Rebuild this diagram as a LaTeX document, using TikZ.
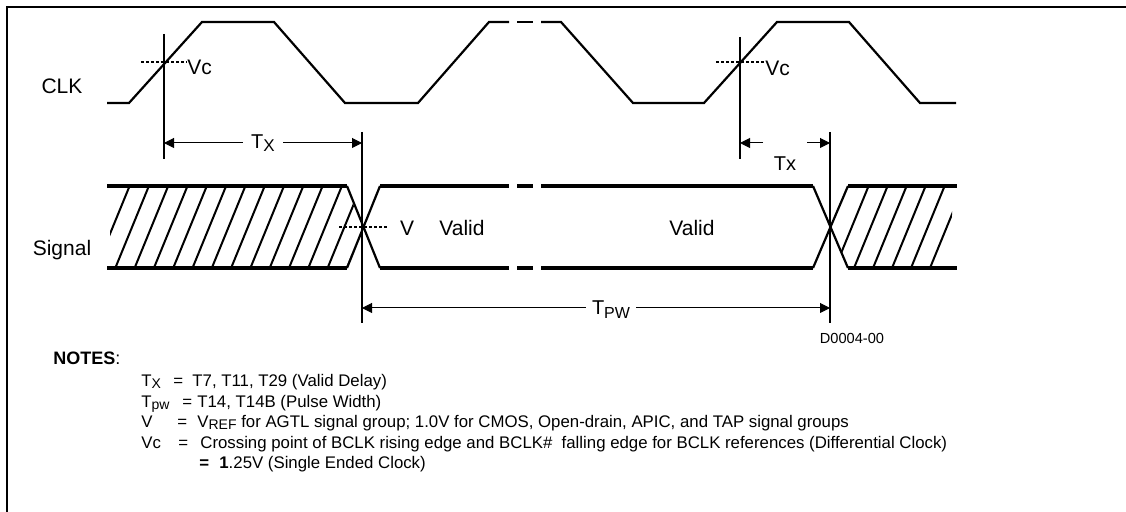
\documentclass[tikz,border=0pt]{standalone}
\usepackage{fontspec}
\setmainfont{Liberation Sans}
\usetikzlibrary{arrows.meta, calc}

\newcommand{\notesub}[1]{\raisebox{-1pt}{\fontsize{7}{8}\selectfont #1}}

\begin{document}
\begin{tikzpicture}[
    x=0.5pt, y=-0.5pt,
    frame/.style={line width=1pt},
    wave/.style={line width=1.1pt, line join=miter},
    bus/.style={line width=1.8pt},
    edge/.style={line width=1.1pt},
    hatch/.style={line width=1pt},
    marker/.style={line width=0.8pt},
    level/.style={line width=0.6pt, dash pattern=on 1.5pt off 1pt},
    dimline/.style={line width=0.5pt, -{Triangle[length=5pt, width=5pt]}},
    lbl/.style={font=\fontsize{10.5}{12}\selectfont, inner sep=0pt},
    tlbl/.style={font=\fontsize{10}{11}\selectfont, inner sep=1pt},
    note/.style={font=\fontsize{8.4}{10}\selectfont, anchor=base west, inner sep=0pt}
]
\useasboundingbox (0,0) rectangle (1126,512);

% ====================
% Cornice
% ====================
\draw[frame] (7,512) -- (7,7) -- (1126,7);

% ====================
% CLK
% ====================
\node[lbl] (clk) at (62,86) {CLK};

\coordinate (c0) at (107,103);
\coordinate (c1) at (129,103);
\coordinate (c2) at (202,22);
\coordinate (c3) at (274,22);
\coordinate (c4) at (345,103);
\coordinate (c5) at (418,103);
\coordinate (c6) at (489,22);
\coordinate (c7) at (509,22);
\coordinate (c8) at (517,22);
\coordinate (c9) at (533,22);
\coordinate (c10) at (541,22);
\coordinate (c11) at (561,22);
\coordinate (c12) at (633,103);
\coordinate (c13) at (704,103);
\coordinate (c14) at (777,22);
\coordinate (c15) at (849,22);
\coordinate (c16) at (920,103);
\coordinate (c17) at (956,103);
\draw[wave] (c0) -- (c1) -- (c2) -- (c3) -- (c4) -- (c5) -- (c6) -- (c7);
\draw[wave] (c8) -- (c9);
\draw[wave] (c10) -- (c11) -- (c12) -- (c13) -- (c14) -- (c15) -- (c16) -- (c17);

% Vc
\coordinate (vc1L) at (141,62);
\coordinate (vc1R) at (187,62);
\coordinate (vc2L) at (716,62);
\coordinate (vc2R) at (765,62);
\draw[level] (vc1L) -- (vc1R);
\draw[level] (vc2L) -- (vc2R);
\node[lbl, anchor=west] (vc1) at (187,67) {Vc};
\node[lbl, anchor=west] (vc2) at (765,68) {Vc};

% Marker verticali
\coordinate (m1T) at (164,34);  \coordinate (m1B) at (164,159);
\coordinate (m2T) at (362,132); \coordinate (m2B) at (362,323);
\coordinate (m3T) at (740,37);  \coordinate (m3B) at (740,159);
\coordinate (m4T) at (830,132); \coordinate (m4B) at (830,323);
\draw[marker] (m1T) -- (m1B);
\draw[marker] (m2T) -- (m2B);
\draw[marker] (m3T) -- (m3B);
\draw[marker] (m4T) -- (m4B);

% ====================
% Signal
% ====================
\node[lbl] (sig) at (62,250) {Signal};

% binari
\draw[bus] (107,186) -- (347,186);
\draw[bus] (107,268) -- (347,268);
\draw[bus] (380,186) -- (509,186);
\draw[bus] (380,268) -- (509,268);
\draw[bus] (517,186) -- (533,186);
\draw[bus] (517,268) -- (533,268);
\draw[bus] (541,186) -- (813,186);
\draw[bus] (541,268) -- (813,268);
\draw[bus] (848,186) -- (957,186);
\draw[bus] (848,268) -- (957,268);

% incroci
\draw[edge] (347,186) -- (380,268);
\draw[edge] (347,268) -- (380,186);
\draw[edge] (813,186) -- (848,268);
\draw[edge] (813,268) -- (848,186);

% tratteggio
\begin{scope}
  \clip (110,188) -- (347,188) -- (362,227) -- (347,266) -- (110,266) -- cycle;
  \foreach \i in {0,...,13}
    \draw[hatch] ({96+19.3*\i},268) -- ({129.6+19.3*\i},186);
\end{scope}
\begin{scope}
  \clip (830,227) -- (847,188) -- (952,188) -- (952,266) -- (847,266) -- cycle;
  \foreach \i in {0,...,5}
    \draw[hatch] ({835+19*\i},268) -- ({868.6+19*\i},186);
\end{scope}

% V
\coordinate (vL) at (339,227);
\coordinate (vR) at (387,227);
\draw[level] (vL) -- (vR);
\node[lbl] (v) at (407,228) {V};
\node[lbl] (valid1) at (462,228) {Valid};
\node[lbl] (valid2) at (692,228) {Valid};

% ====================
% Quote
% ====================
\coordinate (tx1L) at (164,143);
\coordinate (tx1R) at (362,143);
\coordinate (tx1M) at ($(tx1L)!0.5!(tx1R)$);
\draw[dimline] (tx1M) -- (tx1L);
\draw[dimline] (tx1M) -- (tx1R);
\node[tlbl, fill=white, inner xsep=4pt] (tx1) at (tx1M) {T\raisebox{-1.5pt}{\fontsize{8.5}{9}\selectfont X}};

\coordinate (tx2L) at (740,143);
\coordinate (tx2R) at (830,143);
\coordinate (tx2a) at (763,143);
\coordinate (tx2b) at (807,143);
\draw[dimline] (tx2a) -- (tx2L);
\draw[dimline] (tx2b) -- (tx2R);
\node[tlbl] (tx2) at (785,164) {Tx};

\coordinate (tpwL) at (362,308);
\coordinate (tpwR) at (830,308);
\coordinate (tpwM) at (611,308);
\draw[dimline] (tpwM) -- (tpwL);
\draw[dimline] (tpwM) -- (tpwR);
\node[tlbl, fill=white, inner xsep=3pt] (tpw) at (611,310) {T\raisebox{-2pt}{\fontsize{8}{9}\selectfont PW}};

\node[font=\fontsize{7.3}{9}\selectfont, inner sep=0pt] (code) at (852,338) {D0004-00};

% ====================
% Note
% ====================
\node[note, font=\fontsize{9}{10}\selectfont\bfseries] (notes) at (53,365) {NOTES\textmd{:}};
\node[note] (n1) at (141,387) {\makebox[16pt][l]{T\notesub{X}}\makebox[9.5pt][l]{=}T7, T11, T29 (Valid Delay)};
\node[note] (n2) at (141,407.5) {\makebox[20.5pt][l]{T\notesub{pw}}\makebox[7.5pt][l]{=}T14, T14B (Pulse Width)};
\node[note] (n3) at (141,428) {\makebox[18pt][l]{V}\makebox[10pt][l]{=}V\notesub{REF} for AGTL signal group; 1.0V for CMOS, Open-drain, APIC, and TAP signal groups};
\node[note] (n4) at (141,448.5) {\makebox[18.5pt][l]{Vc}\makebox[11pt][l]{=}Crossing point of BCLK rising edge and BCLK\#\ \ falling edge for BCLK references (Differential Clock)};
\node[note] (n5) at (199,469) {\makebox[10pt][l]{\textbf{=}}\textbf{1}.25V (Single Ended Clock)};

\end{tikzpicture}
\end{document}
